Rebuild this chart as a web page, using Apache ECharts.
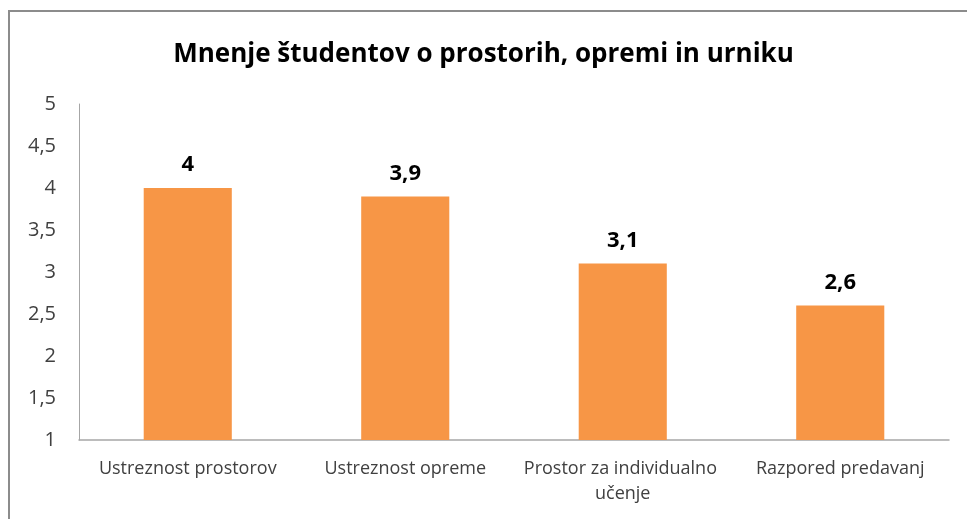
<!DOCTYPE html>
<html>
<head>
<meta charset="utf-8">
<script src="https://cdn.jsdelivr.net/npm/echarts@6/dist/echarts.min.js"></script>
<style>
html,body{margin:0;padding:0;background:#fff;}
#frame{position:absolute;left:8px;top:10px;width:980px;height:540px;border-left:2px solid #8c8c8c;border-top:2px solid #8c8c8c;box-sizing:border-box;}
#c{position:absolute;left:0;top:0;width:967px;height:519px;}
</style>
</head>
<body>
<div id="frame"></div>
<div id="c"></div>
<script>
const title = 'Mnenje študentov o prostorih, opremi in urniku';
const categories = ['Ustreznost prostorov', 'Ustreznost opreme', 'Prostor za individualno učenje', 'Razpored predavanj'];
const values = [4, 3.9, 3.1, 2.6];
const yMin = 1, yMax = 5, yStep = 0.5;

const fmt = v => String(v).replace('.', ',');
const chart = echarts.init(document.getElementById('c'), null, {renderer: 'canvas'});
chart.setOption({
  backgroundColor: 'transparent',
  animation: false,
  title: {
    text: title, left: 'center', top: 37,
    textStyle: {fontFamily: 'Open Sans', fontWeight: 'bold', fontSize: 26, color: '#000'}
  },
  grid: {left: 79, right: 18, top: 104, bottom: 79, containLabel: false},
  xAxis: {
    type: 'category', data: categories,
    axisLine: {lineStyle: {color: '#a6a6a6', width: 1.5}},
    axisTick: {show: false},
    axisLabel: {
      color: '#404040', fontFamily: 'Open Sans', fontSize: 18, margin: 16,
      width: 205, overflow: 'break', lineHeight: 25, interval: 0
    }
  },
  yAxis: {
    type: 'value', min: yMin, max: yMax, interval: yStep,
    axisLine: {show: true, lineStyle: {color: '#a6a6a6', width: 1}},
    axisTick: {show: false},
    splitLine: {show: false},
    axisLabel: {color: '#404040', fontFamily: 'Open Sans', fontSize: 20, margin: 23, formatter: fmt}
  },
  series: [{
    type: 'bar', data: values, barWidth: '40.5%',
    itemStyle: {color: '#F79646'},
    label: {
      show: true, position: 'top', distance: 12, formatter: p => fmt(p.value),
      fontFamily: 'Open Sans', fontWeight: 'bold', fontSize: 22, color: '#000'
    }
  }]
});
</script>
</body>
</html>
